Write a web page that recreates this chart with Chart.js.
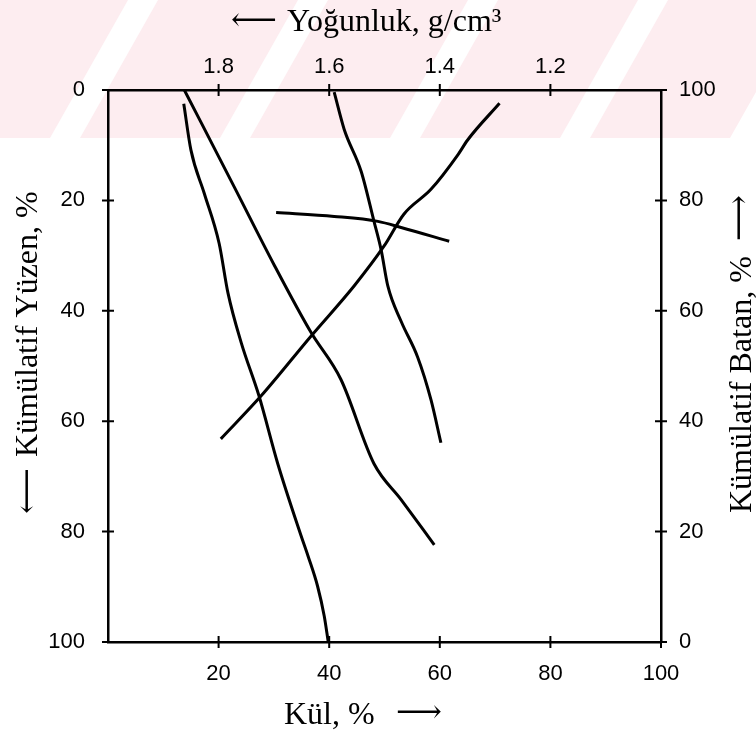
<!DOCTYPE html>
<html>
<head>
<meta charset="utf-8">
<script src="https://cdn.jsdelivr.net/npm/chart.js@4.4.1/dist/chart.umd.min.js"></script>
<style>
  html, body { margin: 0; padding: 0; background: #fff; }
  #wrap { width: 756px; height: 735px; }
</style>
</head>
<body>
<div id="wrap"><canvas id="chart" width="756" height="735"></canvas></div>
<script>
// tick values of the four axes
const kulTicks = [20, 40, 60, 80, 100];
const yuzenTicks = [0, 20, 40, 60, 80, 100];
const batanTicks = [0, 20, 40, 60, 80, 100];
const yogunlukTicks = [1.8, 1.6, 1.4, 1.2];

// curves (x = Kül %, y = Kümülatif Yüzen %)
const curveAKul   = [13.7, 15.0, 17.4, 20.1, 21.7, 24.1, 27.3, 30.7, 34.9, 36.2, 37.9, 39.1, 39.8];
const curveAYuzen = [2.5, 10.9, 18.7, 27.8, 36.8, 45.8, 55.4, 67.7, 80.7, 84.5, 89.9, 95.3, 99.8];

const curveBKul   = [13.8, 22.8, 30.0, 36.7, 42.1, 48.1, 53.0, 59.0];
const curveBYuzen = [0.0, 17.5, 31.6, 43.9, 52.4, 67.7, 74.2, 82.4];

const curveCKul   = [40.9, 42.7, 45.8, 48.1, 49.4, 50.6, 53.0, 56.0, 58.4, 60.2];
const curveCYuzen = [0.4, 7.1, 14.8, 23.8, 29.0, 35.5, 41.9, 48.4, 56.1, 63.9];

const curveEKul   = [30.4, 40.9, 48.8, 53.0, 61.7];
const curveEYuzen = [22.2, 22.9, 23.8, 24.9, 27.4];

// sinks curve, read on the right axis (Kümülatif Batan %)
const curveDKul   = [20.4, 27.7, 36.7, 44.5, 49.9, 53.5, 58.4, 63.3, 65.0, 70.8];
const curveDBatan = [36.8, 44.6, 55.4, 64.5, 71.7, 77.5, 82.0, 88.3, 90.9, 97.6];

const pts = (xs, ys) => xs.map((x, i) => ({ x: x, y: ys[i] }));

const tickFont = { family: "'Liberation Sans Narrow', 'Liberation Sans', Arial, sans-serif", size: 22 };
const titleFont = "32px 'Liberation Serif', 'DejaVu Serif', 'DejaVu Sans', serif";

function curve(data, yAxis) {
  return {
    data: data,
    xAxisID: "x",
    yAxisID: yAxis,
    showLine: true,
    borderColor: "#000",
    borderWidth: 3,
    pointRadius: 0,
    cubicInterpolationMode: "monotone",
    fill: false
  };
}

function axis(extra) {
  return Object.assign({
    type: "linear",
    grid: { display: false, drawTicks: false, tickLength: 0 },
    border: { display: true, color: "#000", width: 2.5 }
  }, extra);
}

// white page with the pale pink stripe band at the top
const backdrop = {
  id: "backdrop",
  beforeDraw(chart) {
    const ctx = chart.ctx;
    ctx.save();
    ctx.fillStyle = "#fff";
    ctx.fillRect(0, 0, chart.width, chart.height);
    ctx.fillStyle = "#fdedf0";
    ctx.fillRect(0, 0, chart.width, 138);
    ctx.fillStyle = "#fff";
    for (let x0 = -120; x0 < chart.width; x0 += 170) {
      ctx.beginPath();
      ctx.moveTo(x0, 138);
      ctx.lineTo(x0 + 30, 138);
      ctx.lineTo(x0 + 30 + 78, 0);
      ctx.lineTo(x0 + 78, 0);
      ctx.closePath();
      ctx.fill();
    }
    ctx.restore();
  }
};

// small cross ticks on all four axes, and the axis titles
const decorations = {
  id: "decorations",
  afterDraw(chart) {
    const ctx = chart.ctx;
    const a = chart.chartArea;
    ctx.save();
    ctx.strokeStyle = "#000";
    ctx.lineWidth = 2;
    ctx.beginPath();
    const sx = chart.scales.x, sxt = chart.scales.xTop, sy = chart.scales.y, syb = chart.scales.yB;
    sx.ticks.forEach(t => { const p = sx.getPixelForValue(t.value); ctx.moveTo(p, a.bottom - 6); ctx.lineTo(p, a.bottom + 6); });
    sxt.ticks.forEach(t => { const p = sxt.getPixelForValue(t.value); ctx.moveTo(p, a.top - 6); ctx.lineTo(p, a.top + 6); });
    sy.ticks.forEach(t => { const p = sy.getPixelForValue(t.value); ctx.moveTo(a.left - 6, p); ctx.lineTo(a.left + 6, p); });
    syb.ticks.forEach(t => { const p = syb.getPixelForValue(t.value); ctx.moveTo(a.right - 6, p); ctx.lineTo(a.right + 6, p); });
    ctx.stroke();

    ctx.fillStyle = "#000";
    ctx.font = titleFont;
    ctx.textAlign = "left";
    ctx.textBaseline = "alphabetic";

    // top: density
    ctx.fillText("⟵", 231, 30);
    ctx.fillText("Yoğunluk, g/cm³", 287, 31);

    // bottom: ash
    ctx.fillText("Kül, %", 284, 724);
    ctx.fillText("⟶", 396, 722);

    // left: cumulative floats
    ctx.save();
    ctx.translate(37, 514);
    ctx.rotate(-Math.PI / 2);
    ctx.fillText("⟵", 0, 0);
    ctx.fillText("Kümülatif Yüzen, %", 57, 0);
    ctx.restore();

    // right: cumulative sinks
    ctx.save();
    ctx.translate(751, 513);
    ctx.rotate(-Math.PI / 2);
    ctx.fillText("Kümülatif Batan, %", 0, 0);
    ctx.fillText("⟶", 272, -2);
    ctx.restore();
    ctx.restore();
  }
};

new Chart(document.getElementById("chart"), {
  type: "scatter",
  data: {
    datasets: [
      curve(pts(curveAKul, curveAYuzen), "y"),
      curve(pts(curveBKul, curveBYuzen), "y"),
      curve(pts(curveCKul, curveCYuzen), "y"),
      curve(pts(curveEKul, curveEYuzen), "y"),
      curve(pts(curveDKul, curveDBatan), "yB")
    ]
  },
  options: {
    responsive: false,
    animation: false,
    events: [],
    layout: { padding: 0 },
    plugins: { legend: { display: false }, tooltip: { enabled: false } },
    scales: {
      x: axis({
        position: "bottom", min: 0, max: 100,
        afterBuildTicks: s => { s.ticks = kulTicks.map(v => ({ value: v })); },
        afterFit: s => { s.height = 93; },
        ticks: { color: "#000", font: tickFont, maxRotation: 0, padding: 19 }
      }),
      xTop: axis({
        position: "top", min: 1.0, max: 2.0, reverse: true,
        afterBuildTicks: s => { s.ticks = yogunlukTicks.map(v => ({ value: v })); },
        afterFit: s => { s.height = 90; },
        ticks: { color: "#000", font: tickFont, maxRotation: 0, padding: 10, callback: v => v.toFixed(1) }
      }),
      y: axis({
        position: "left", min: 0, max: 100, reverse: true,
        afterBuildTicks: s => { s.ticks = yuzenTicks.map(v => ({ value: v })); },
        afterFit: s => { s.width = 108; },
        ticks: { color: "#000", font: tickFont, padding: 23 }
      }),
      yB: axis({
        position: "right", min: 0, max: 100,
        afterBuildTicks: s => { s.ticks = batanTicks.map(v => ({ value: v })); },
        afterFit: s => { s.width = 95; },
        ticks: { color: "#000", font: tickFont, padding: 18 }
      })
    }
  },
  plugins: [backdrop, decorations]
});
</script>
</body>
</html>
